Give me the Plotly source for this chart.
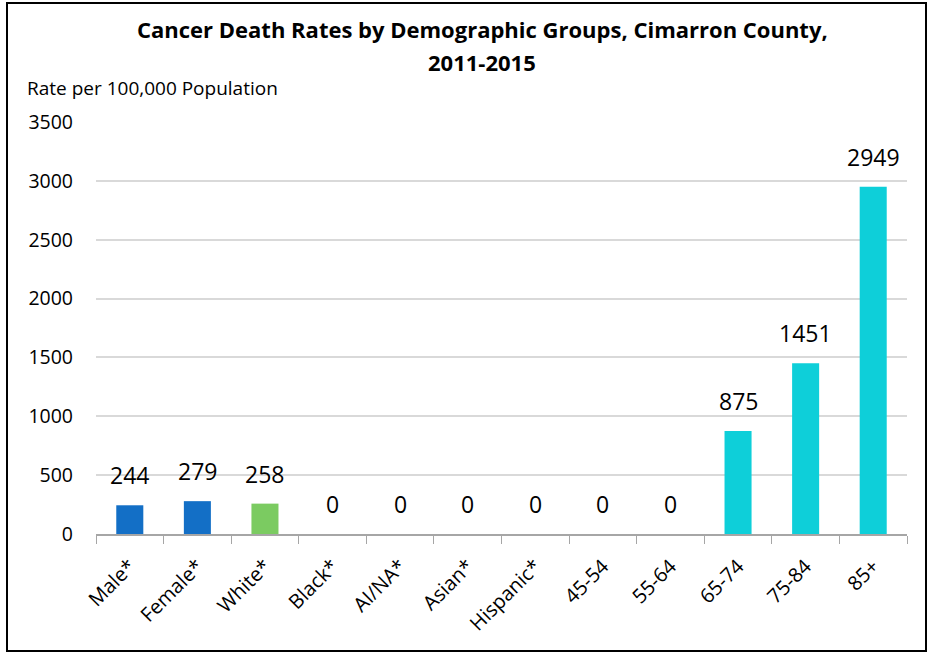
import plotly.graph_objects as go

categories = ["Male*", "Female*", "White*", "Black*", "AI/NA*", "Asian*", "Hispanic*",
              "45-54", "55-64", "65-74", "75-84", "85+"]
rates = [244, 279, 258, 0, 0, 0, 0, 0, 0, 875, 1451, 2949]
groups = ["sex", "sex", "race", "race", "race", "race", "race",
          "age", "age", "age", "age", "age"]
group_colors = {"sex": "#136FC6", "race": "#7BCB61", "age": "#0ECFD9"}
y_ticks = [0, 500, 1000, 1500, 2000, 2500, 3000, 3500]

FONT = "Open Sans"

fig = go.Figure()
fig.add_trace(go.Bar(
    x=categories, y=rates,
    marker=dict(color=[group_colors[g] for g in groups], line=dict(width=0)),
    hoverinfo="x+y",
))

annotations = []
for c, v in zip(categories, rates):
    annotations.append(dict(x=c, y=v, xref="x", yref="y", text=str(v), showarrow=False,
                            yanchor="bottom", yshift=12,
                            font=dict(family=FONT, size=23, color="#000000")))

annotations += [
    dict(text="<b>Cancer Death Rates by Demographic Groups, Cimarron County,</b>",
         x=(482 - 96) / 811, y=(534 - 29) / 412, xref="paper", yref="paper",
         showarrow=False, xanchor="center", yanchor="middle",
         font=dict(family=FONT, size=22, color="#000000")),
    dict(text="<b>2011-2015</b>",
         x=(482 - 96) / 811, y=(534 - 62) / 412, xref="paper", yref="paper",
         showarrow=False, xanchor="center", yanchor="middle",
         font=dict(family=FONT, size=22, color="#000000")),
    dict(text="Rate per 100,000 Population",
         x=(25 - 96) / 811, y=(534 - 88) / 412, xref="paper", yref="paper",
         showarrow=False, xanchor="left", yanchor="middle",
         font=dict(family=FONT, size=19, color="#000000")),
]

fig.update_layout(
    width=929, height=654,
    margin=dict(l=96, r=22, t=122, b=120, pad=0),
    paper_bgcolor="white", plot_bgcolor="white",
    bargap=0.6,
    showlegend=False,
    annotations=annotations,
    shapes=[dict(type="rect", xref="paper", yref="paper",
                 x0=(7 - 96) / 811, x1=(926 - 96) / 811,
                 y0=(534 - 651) / 412, y1=(534 - 3) / 412,
                 line=dict(color="#000000", width=2), fillcolor="rgba(0,0,0,0)",
                 layer="below")],
    xaxis=dict(
        tickangle=-45, tickfont=dict(family=FONT, size=20, color="#000000"),
        showline=True, linecolor="#A6A6A6", linewidth=1.5,
        ticks="outside", tickson="boundaries", ticklen=8, tickcolor="#A6A6A6",
        ticklabelstandoff=11,
        showgrid=False, fixedrange=True, automargin=False,
    ),
    yaxis=dict(
        range=[0, 3500], tickvals=y_ticks,
        tickfont=dict(family=FONT, size=19.5, color="#000000"),
        showgrid=True, gridcolor="#D9D9D9", gridwidth=1.5,
        zeroline=False, showline=False, ticks="",
        ticklabelstandoff=22, fixedrange=True, automargin=False,
    ),
)

fig.write_html("out.html",
               config={"displayModeBar": False},
               post_script="document.body.style.margin='0';document.body.style.overflow='hidden';")
